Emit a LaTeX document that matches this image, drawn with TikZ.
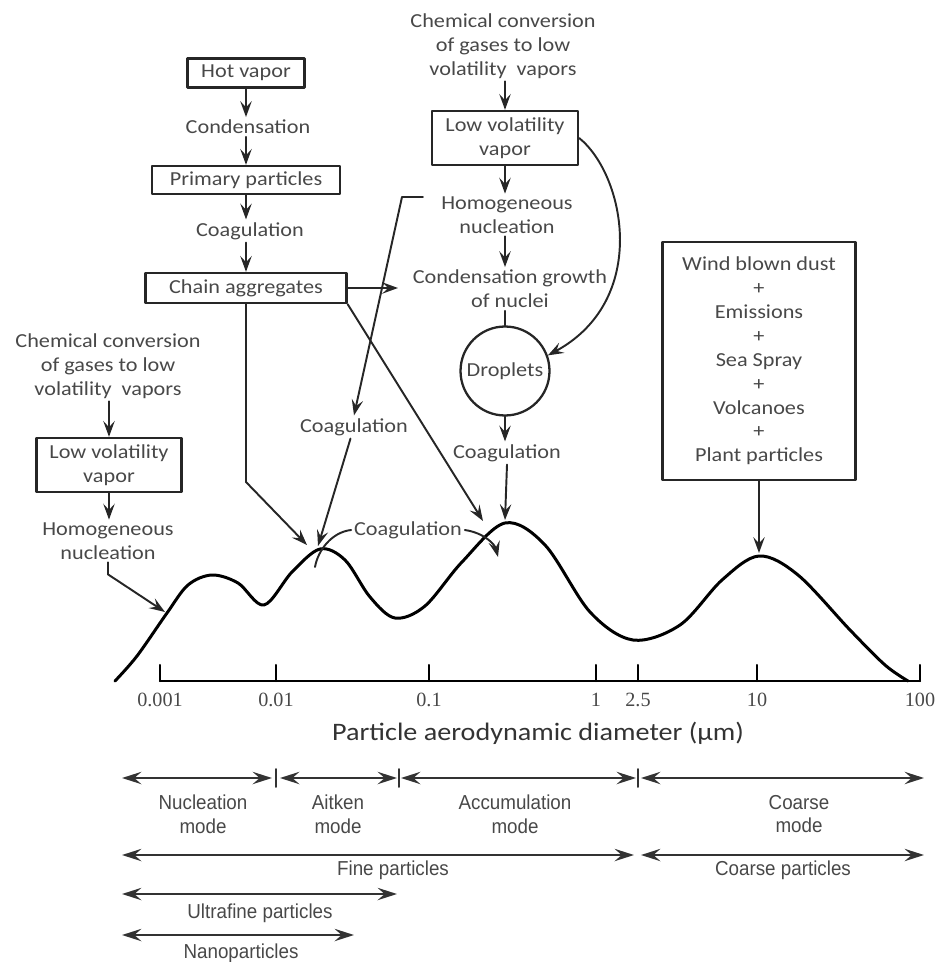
\documentclass[tikz,border=0pt]{standalone}
\usepackage{fontspec}
\setmainfont{Carlito}[FakeStretch=1.12]
\newfontfamily\scalefont{Liberation Sans}[FakeStretch=0.93]
\newfontfamily\tickfont{Liberation Serif}
\usetikzlibrary{arrows.meta,shapes.geometric}
\definecolor{txtgray}{RGB}{72,72,72}
\tikzset{
  lbl/.style={font=\fontsize{11.3}{13.6}\selectfont, text=txtgray, align=center, inner sep=1.5pt},
  boxed/.style={lbl, draw=black!85, line width=1.3pt},
  flow/.style={-{Stealth[length=9pt,width=6.5pt,inset=3.5pt]}, line width=1.1pt, draw=black!85},
  scalelbl/.style={font=\scalefont\fontsize{11.5}{13.6}\selectfont, text=txtgray, align=center, inner sep=1pt},
  span/.style={{Stealth[length=11pt,width=7pt,inset=4pt]}-{Stealth[length=11pt,width=7pt,inset=4pt]}, line width=1.4pt, draw=black!80},
}
\begin{document}
\begin{tikzpicture}[x=0.02cm, y=-0.02cm, line join=round, line cap=round]
\useasboundingbox (0,0) rectangle (950,962);

% hot vapor chain
\node[boxed, minimum width=2.34cm, minimum height=0.58cm] (hot) at (246,73) {Hot vapor};
\node[lbl] (cond) at (248,127) {Condensation};
\node[boxed, minimum width=3.76cm, minimum height=0.56cm] (prim) at (246,180) {Primary particles};
\node[lbl] (coagA) at (250,231) {Coagulation};
\node[boxed, minimum width=4.02cm, minimum height=0.6cm] (chain) at (246,288) {Chain aggregates};
\draw[flow] (hot.south) -- (hot.south |- cond.north);
\draw[flow] (hot.south |- cond.south) -- (prim.north);
\draw[flow] (prim.south) -- (prim.south |- coagA.north);
\draw[flow] (prim.south |- coagA.south) -- (chain.north);

% gas conversion, middle
\node[lbl] (gasM) at (503,46) {Chemical conversion\\of gases to low\\volatility~ vapors};
\node[boxed, minimum width=2.92cm, minimum height=1.08cm] (lvvM) at (505,138) {Low volatility\\vapor};
\node[lbl] (homM) at (507,215) {Homogeneous\\nucleation};
\node[lbl] (growth) at (510,289) {Condensation growth\\of nuclei};
\node[lbl, draw=black!85, line width=1.3pt, circle, inner sep=0pt, minimum size=1.78cm] (drop) at (505,371) {Droplets};
\node[lbl] (coagD) at (507,453) {Coagulation};
\draw[flow] (lvvM.north |- gasM.south) -- (lvvM.north);
\draw[flow] (lvvM.south) -- (lvvM.south |- homM.north);
\draw[flow] (lvvM.south |- homM.south) -- (lvvM.south |- growth.north);
\draw[line width=1.1pt, black!85] (drop.north |- growth.south) -- (drop.north);
\draw[flow] (drop.south) -- (drop.south |- coagD.north);
\draw[flow] (lvvM.east) .. controls (625,175) and (650,300) .. (drop.20);

% gas conversion, left
\node[lbl] (gasL) at (108,366) {Chemical conversion\\of gases to low\\volatility~ vapors};
\node[boxed, minimum width=2.9cm, minimum height=1.08cm] (lvvL) at (109,465) {Low volatility\\vapor};
\node[lbl] (homL) at (108,541) {Homogeneous\\nucleation};
\draw[flow] (lvvL.north |- gasL.south) -- (lvvL.north);
\draw[flow] (lvvL.south) -- (lvvL.south |- homL.north);

% coagulation labels
\node[lbl] (coagM) at (354,427) {Coagulation};
\node[lbl] (coagB) at (408,530) {Coagulation};

% sources of coarse particles
\node[boxed, minimum width=3.86cm, minimum height=4.76cm] (src) at (759,361)
  {Wind blown dust\\+\\Emissions\\+\\Sea Spray\\+\\Volcanoes\\+\\Plant particles};

% size distribution
\draw[line width=1.7pt] plot[smooth, tension=0.55] coordinates {
  (115,681) (137,656) (167,613) (188,585) (212,575) (238,583) (264,605)
  (292,572) (320,549) (345,560) (370,597) (395,618) (425,606) (462,562)
  (505,523) (545,545) (590,612) (633,640) (680,625) (722,580) (759,556)
  (798,575) (850,630) (885,665) (908,681)};
\coordinate (pk1) at (165,612);
\coordinate (pk2a) at (307,545);
\coordinate (pk2b) at (318,546);
\coordinate (pk3a) at (483,521);
\coordinate (pk3b) at (505,520);
\coordinate (pk4) at (759,553);
\coordinate (nucl) at (398,288);
\coordinate (bendC) at (246,482);
\coordinate (hL) at (423,197);
\coordinate (hB) at (402,197);
\coordinate (arcL) at (315,567);
\coordinate (arcR) at (498,557);

% links to the modes
\draw[flow] (homL.south) -- ++(0,12) -- (pk1);
\draw[flow] (chain.south) -- (bendC) -- (pk2a);
\draw[flow] (chain.east) -- (nucl);
\draw[flow] (chain.south east) -- (pk3a);
\draw[flow] (hL) -- (hB) -- (coagM.north);
\draw[flow] (coagM) -- (pk2b);
\draw[flow] (coagD.south) -- (pk3b);
\draw[flow] (src.south) -- (pk4);
\draw[line width=1.1pt, black!85] (coagB.west) .. controls (332,532) and (318,550) .. (arcL);
\draw[flow] (coagB.east) .. controls (485,533) and (495,545) .. (arcR);

% axis
\draw[line width=1.2pt] (160,681) -- (920,681);
\foreach \x/\v [count=\i] in {160/0.001, 276/0.01, 429/0.1, 596/1, 638/2.5, 757/10, 920/100}{
  \draw[line width=1.2pt] (\x,681) -- (\x,665);
  \node[font=\tickfont\fontsize{11.5}{13}\selectfont, text=txtgray, inner sep=1pt] (tk\i) at (\x,700) {\v};
}
\node[lbl, font=\fontsize{14.3}{16}\selectfont, text=black!80] (axtitle) at (538,733) {Particle aerodynamic diameter (µm)};

% size ranges
\foreach \xa/\xb in {122/272, 280/397, 401/636, 641/924}
  \draw[span] (\xa,778) -- (\xb,778);
\foreach \x in {276,399,638}
  \draw[line width=1.1pt, black!80] (\x,769) -- (\x,787);
\node[scalelbl] (nucmode) at (203,814) {Nucleation\\mode};
\node[scalelbl] (aitmode) at (338,814) {Aitken\\mode};
\node[scalelbl] (accmode) at (515,814) {Accumulation\\mode};
\node[scalelbl] (coamode) at (799,814) {Coarse\\mode};
\draw[span] (122,855) -- (634,855);
\draw[span] (641,855) -- (924,855);
\node[scalelbl] (fine) at (393,870) {Fine particles};
\node[scalelbl] (coarse) at (783,870) {Coarse particles};
\draw[span] (122,894) -- (397,894);
\node[scalelbl] (ultra) at (260,913) {Ultrafine particles};
\draw[span] (122,935) -- (354,935);
\node[scalelbl] (nano) at (241,953) {Nanoparticles};
\end{tikzpicture}
\end{document}
